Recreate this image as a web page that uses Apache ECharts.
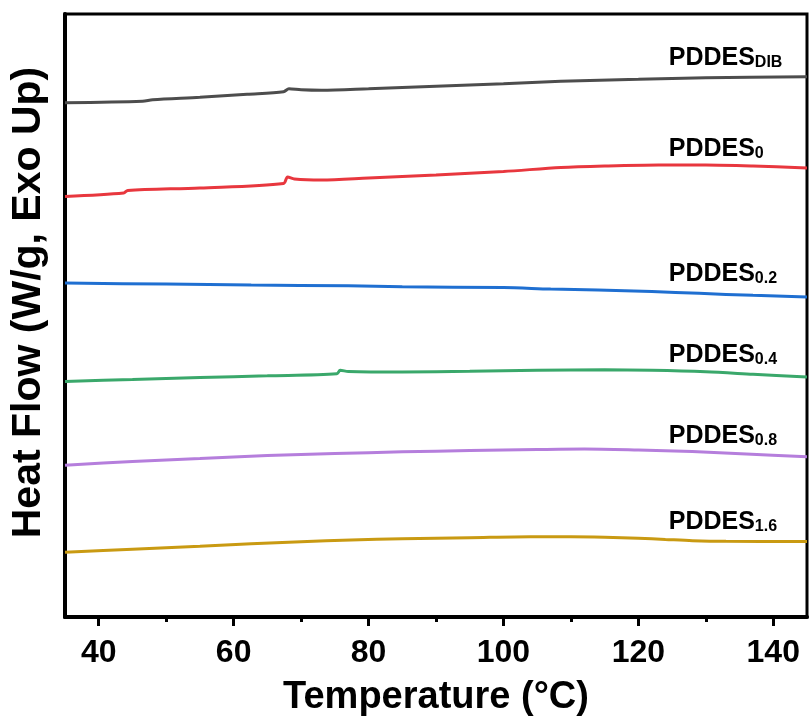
<!DOCTYPE html>
<html>
<head>
<meta charset="utf-8">
<title>DSC heat flow</title>
<script src="https://cdn.jsdelivr.net/npm/echarts@6.0.0/dist/echarts.min.js"></script>
<style>
  html, body { margin: 0; padding: 0; background: #fff; }
  #main { width: 810px; height: 722px; }
</style>
</head>
<body>
<div id="main"></div>
<script>
// temperatures (°C) and heat flow (arbitrary offset units, W/g)
var tDIB = [35, 46.5, 48, 55, 62, 67.4, 68.2, 70, 73, 80, 90, 100, 108.5, 120, 130, 145];
var hDIB = [5.16, 5.175, 5.19, 5.215, 5.245, 5.27, 5.30, 5.29, 5.285, 5.30, 5.325, 5.35, 5.375, 5.395, 5.41, 5.42];

var t0 = [35, 43.7, 44.3, 55, 67.4, 68, 69, 73, 80, 90, 100, 108.5, 115, 123, 130, 137, 145];
var h0 = [4.22, 4.255, 4.28, 4.305, 4.35, 4.415, 4.395, 4.385, 4.405, 4.435, 4.47, 4.51, 4.525, 4.535, 4.535, 4.525, 4.505];

var t02 = [35, 50, 62.6, 77, 85, 100, 107, 114, 122, 129, 137, 145];
var h02 = [3.35, 3.34, 3.33, 3.323, 3.313, 3.305, 3.29, 3.28, 3.265, 3.247, 3.227, 3.21];

var t04 = [35, 45, 55, 65, 75.3, 75.8, 77, 85, 95, 105, 115, 122, 130, 137, 145];
var h04 = [2.363, 2.383, 2.403, 2.42, 2.44, 2.475, 2.463, 2.458, 2.465, 2.475, 2.48, 2.475, 2.46, 2.435, 2.407];

var t08 = [35, 45, 55, 65, 75, 85, 95, 105, 112, 120, 128, 136, 145];
var h08 = [1.523, 1.56, 1.59, 1.62, 1.64, 1.657, 1.67, 1.68, 1.685, 1.675, 1.66, 1.635, 1.607];

var t16 = [35, 45, 55, 62.6, 70, 77.4, 85, 95, 104, 110, 115, 120, 124, 128, 133, 145];
var h16 = [0.65, 0.68, 0.71, 0.735, 0.755, 0.773, 0.785, 0.795, 0.805, 0.805, 0.80, 0.79, 0.778, 0.766, 0.759, 0.757];

var subs = ['DIB', '0', '0.2', '0.4', '0.8', '1.6'];
var majorTicks = [40, 60, 80, 100, 120, 140];
var minorTicks = [50, 70, 90, 110, 130];

// where each sample label sits (data coords)
var labelAnchor = [[124.5, 5.63], [124.5, 4.72], [124.5, 3.47], [124.5, 2.655], [124.5, 1.845], [124.5, 0.975]];
var colors = ['#4d4d4d', '#e8373e', '#1f6fd1', '#3aa86b', '#b57edc', '#c99a12'];

var FONT = 'Liberation Sans, Arial, sans-serif';

function pairs(xs, ys) {
    var out = [];
    for (var i = 0; i < xs.length; i++) {
        out.push([xs[i], ys[i]]);
    }
    return out;
}

var allT = [tDIB, t0, t02, t04, t08, t16];
var allH = [hDIB, h0, h02, h04, h08, h16];

var series = [];
for (var k = 0; k < allT.length; k++) {
    series.push({
        name: 'PDDES' + subs[k],
        type: 'line',
        data: pairs(allT[k], allH[k]),
        showSymbol: false,
        smooth: 0.3,
        lineStyle: { color: colors[k], width: 3 },
        silent: true,
        markPoint: {
            symbol: 'circle',
            symbolSize: 0,
            silent: true,
            data: [{ coord: labelAnchor[k] }],
            label: {
                show: true,
                position: 'right',
                distance: 0,
                formatter: '{m|PDDES}{s|' + subs[k] + '}',
                rich: {
                    m: { fontFamily: FONT, fontWeight: 'bold', fontSize: 25, color: '#000', lineHeight: 30, verticalAlign: 'bottom' },
                    s: { fontFamily: FONT, fontWeight: 'bold', fontSize: 16, color: '#000', lineHeight: 16, verticalAlign: 'bottom' }
                }
            }
        }
    });
}

var option = {
    animation: false,
    backgroundColor: '#fff',
    grid: {
        left: 64, right: 3, top: 14, bottom: 103,
        show: true, borderColor: '#000', borderWidth: 3
    },
    xAxis: [{
        type: 'value',
        min: 35, max: 145,
        name: 'Temperature (°C)',
        nameLocation: 'middle',
        nameGap: 62,
        nameTextStyle: { fontFamily: FONT, fontWeight: 'bold', fontSize: 38, color: '#000' },
        axisLine: { show: true, lineStyle: { color: '#000', width: 4 } },
        axisTick: { show: true, inside: false, length: 9, lineStyle: { color: '#000', width: 3 }, customValues: majorTicks },
        axisLabel: { fontFamily: FONT, fontWeight: 'bold', fontSize: 32, color: '#000', margin: 20, customValues: majorTicks },
        splitLine: { show: false }
    }, {
        type: 'value',
        min: 35, max: 145,
        position: 'bottom',
        axisLine: { show: false },
        axisTick: { show: true, inside: false, length: 5, lineStyle: { color: '#000', width: 3 }, customValues: minorTicks },
        axisLabel: { show: false },
        splitLine: { show: false }
    }],
    yAxis: {
        type: 'value',
        min: 0, max: 6.05,
        name: 'Heat Flow (W/g, Exo Up)',
        nameLocation: 'middle',
        nameGap: 16,
        nameTextStyle: { fontFamily: FONT, fontWeight: 'bold', fontSize: 41, color: '#000', padding: [0, 0, 0, 26] },
        axisLine: { show: true, lineStyle: { color: '#000', width: 4 } },
        axisTick: { show: false },
        axisLabel: { show: false },
        splitLine: { show: false }
    },
    series: series
};

var chart = echarts.init(document.getElementById('main'), null, { renderer: 'canvas' });
chart.setOption(option);
</script>
</body>
</html>
